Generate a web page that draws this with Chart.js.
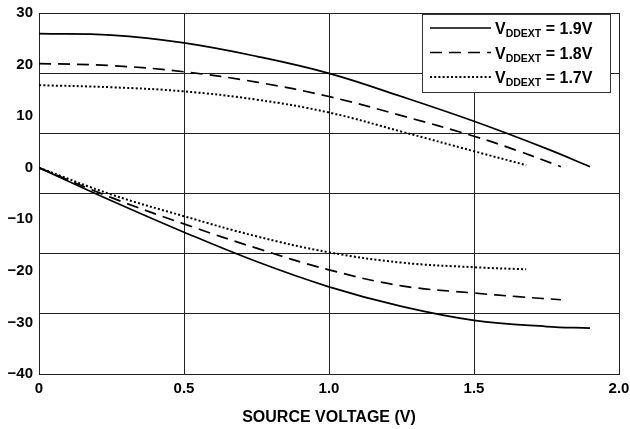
<!DOCTYPE html>
<html>
<head>
<meta charset="utf-8">
<script src="https://cdn.jsdelivr.net/npm/chart.js@4/dist/chart.umd.min.js"></script>
<style>
  html, body { margin: 0; padding: 0; background: #fff; }
  #wrap { width: 630px; height: 429px; }
</style>
</head>
<body>
<div id="wrap"><canvas id="ivChart" width="630" height="429"></canvas></div>
<script>
// supply voltages (legend) and source voltage sample points for each curve
const supplies = ["1.9V", "1.8V", "1.7V"];

const vSrc19 = [0, 0.25, 0.5, 0.75, 1.0, 1.25, 1.5, 1.75, 1.9];
const upper19 = [26, 25.7, 24.2, 21.6, 18.3, 13.8, 9.0, 3.7, 0.2];
const lower19 = [0, -6.4, -12.5, -18.2, -23.1, -26.9, -29.6, -30.8, -31.1];

const vSrc18 = [0, 0.25, 0.5, 0.75, 1.0, 1.25, 1.5, 1.65, 1.8];
const upper18 = [20.2, 19.8, 18.6, 16.6, 13.8, 10.1, 6.1, 3.3, 0.2];
const lower18 = [0, -5.8, -10.9, -15.6, -19.8, -22.9, -24.3, -25.0, -25.6];

const vSrc17 = [0, 0.25, 0.5, 0.75, 1.0, 1.25, 1.5, 1.68];
const upper17 = [16, 15.6, 14.8, 13.2, 10.7, 7.0, 3.2, 0.5];
const lower17 = [0, -5.2, -9.4, -13.3, -16.4, -18.4, -19.3, -19.7];

// axis ticks
const xTicks = [0, 0.5, 1.0, 1.5, 2.0];
const yTicks = [30, 20, 10, 0, -10, -20, -30, -40];
// horizontal grid lines of the original plot (6 equal divisions)
const yGridLines = [-40, -28.33, -16.67, -5, 6.67, 18.33, 30];

const curves = [
  { supply: supplies[0], x: vSrc19, upper: upper19, lower: lower19, dash: [], width: 1.7 },
  { supply: supplies[1], x: vSrc18, upper: upper18, lower: lower18, dash: [12, 7], width: 1.7 },
  { supply: supplies[2], x: vSrc17, upper: upper17, lower: lower17, dash: [2, 2.2], width: 2 },
];

function pts(xs, ys) {
  return xs.map((x, i) => ({ x: x, y: ys[i] }));
}

const datasets = [];
curves.forEach((c, k) => {
  ["upper", "lower"].forEach((part) => {
    datasets.push({
      label: "VDDEXT = " + c.supply,
      data: pts(c.x, c[part]),
      borderColor: "#000",
      borderWidth: c.width,
      borderDash: c.dash,
      pointRadius: 0,
      fill: false,
      tension: 0.4,
      legendIndex: part === "upper" ? k : null,
    });
  });
});

const FONT = "'Liberation Sans', Arial, sans-serif";

const boxLegend = {
  id: "boxLegend",
  afterDraw(chart) {
    const ctx = chart.ctx;
    const area = chart.chartArea;
    const w = 188, h = 78;
    const left = area.right - w - 9;
    const top = area.top + 1;
    ctx.save();
    ctx.fillStyle = "#fff";
    ctx.fillRect(left, top, w, h);
    ctx.strokeStyle = "#333";
    ctx.lineWidth = 1;
    ctx.strokeRect(left + 0.5, top + 0.5, w, h);
    chart.data.datasets.forEach((ds) => {
      if (ds.legendIndex === null) return;
      const cy = top + 14 + ds.legendIndex * 24.5;
      ctx.strokeStyle = "#000";
      ctx.lineWidth = ds.borderWidth;
      ctx.setLineDash(ds.borderDash);
      ctx.beginPath();
      ctx.moveTo(left + 8, cy);
      ctx.lineTo(left + 69, cy);
      ctx.stroke();
      ctx.setLineDash([]);
      ctx.fillStyle = "#000";
      ctx.textBaseline = "alphabetic";
      let x = left + 73;
      const base = cy + 6;
      ctx.font = "bold 16px " + FONT;
      ctx.fillText("V", x, base);
      x += ctx.measureText("V").width;
      ctx.font = "bold 10.5px " + FONT;
      ctx.fillText("DDEXT", x, base + 3);
      x += ctx.measureText("DDEXT").width;
      ctx.font = "bold 16px " + FONT;
      ctx.fillText(" = " + ds.label.split(" = ")[1], x, base);
    });
    ctx.restore();
  },
};

const tickFont = { family: FONT, size: 15, weight: "bold" };

new Chart(document.getElementById("ivChart").getContext("2d"), {
  type: "line",
  data: { datasets: datasets },
  options: {
    responsive: false,
    animation: false,
    layout: { padding: { top: 13, right: 11, bottom: 0, left: 0 } },
    plugins: {
      legend: { display: false },
      tooltip: { enabled: false },
    },
    scales: {
      x: {
        type: "linear",
        min: 0,
        max: 2,
        afterBuildTicks: (s) => { s.ticks = xTicks.map((v) => ({ value: v })); },
        afterFit: (s) => { s.height = 55; s.paddingRight = 0; s.paddingLeft = 0; },
        ticks: {
          color: "#000",
          font: tickFont,
          padding: 6,
          maxRotation: 0,
          callback: (v) => (v === 0 ? "0" : Number(v).toFixed(1)),
        },
        grid: { color: "#222", lineWidth: 1, drawTicks: false },
        border: { color: "#222", width: 1 },
        title: {
          display: true,
          text: "SOURCE VOLTAGE (V)",
          color: "#000",
          font: { family: FONT, size: 16, weight: "bold" },
          padding: { top: 0, bottom: 2 },
        },
      },
      y: {
        type: "linear",
        min: -40,
        max: 30,
        afterBuildTicks: (s) => { s.ticks = yTicks.map((v) => ({ value: v })); },
        afterFit: (s) => { s.width = 39; s.paddingTop = 0; s.paddingBottom = 0; },
        ticks: {
          color: "#000",
          font: tickFont,
          padding: 6,
          callback: (v) => (v < 0 ? "\u2212" + Math.abs(v) : String(v)),
        },
        grid: { display: false, drawTicks: false },
        border: { display: true, color: "#222", width: 1 },
      },
      yg: {
        type: "linear",
        position: "right",
        min: -40,
        max: 30,
        afterBuildTicks: (s) => { s.ticks = yGridLines.map((v) => ({ value: v })); },
        afterFit: (s) => { s.width = 0; },
        ticks: { display: false },
        grid: { color: "#222", lineWidth: 1, drawTicks: false },
        border: { display: false },
      },
    },
  },
  plugins: [boxLegend],
});
</script>
</body>
</html>
